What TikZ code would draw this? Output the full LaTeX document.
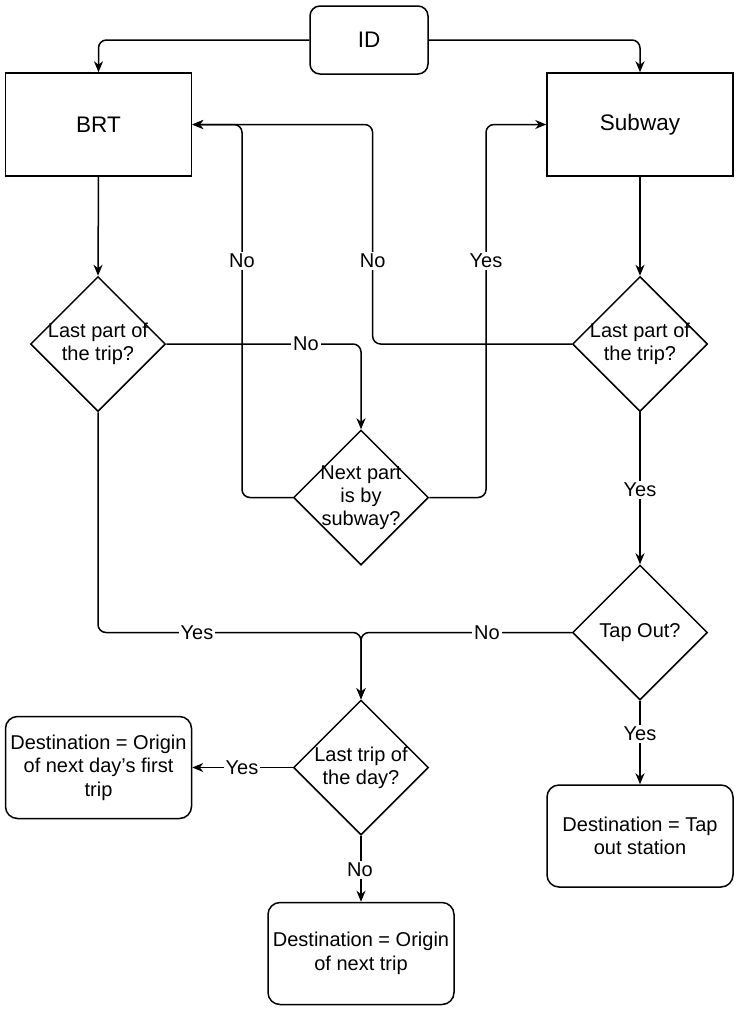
\documentclass[tikz,border=0pt]{standalone}
\usepackage{fontspec}
\setmainfont{Liberation Sans}
\usetikzlibrary{shapes.geometric,arrows.meta}
\begin{document}
\begin{tikzpicture}[x=1pt,y=-1pt,
  line width=1.5pt,
  box/.style={draw, minimum width=186pt, minimum height=103pt, inner sep=0pt, align=center, font=\fontsize{22.5}{27}\selectfont},
  idbox/.style={draw, rounded corners=10pt, minimum width=118pt, minimum height=68pt, inner sep=0pt, font=\fontsize{22.5}{27}\selectfont},
  rbox/.style={draw, rounded corners=12pt, minimum width=186pt, minimum height=102pt, inner sep=0pt, align=center, font=\fontsize{20}{23.5}\selectfont},
  dia/.style={draw, diamond, minimum width=135pt, minimum height=135pt, inner sep=0pt},
  dtxt/.style={align=center, font=\fontsize{20}{23}\selectfont, inner sep=0pt},
  lbl/.style={fill=white, inner sep=2pt, font=\fontsize{20}{23.5}\selectfont},
  arr/.style={-{Stealth[length=11pt,width=9pt,inset=3.5pt]}, rounded corners=8pt},
]
\useasboundingbox (0,0) rectangle (737,1010);

% nodes
\node[idbox] (id) at (369,40) {ID};
\node[box] (brt) at (98.5,124.5) {BRT};
\node[box] (sub) at (640,124.5) {Subway};
\node[dia] (d1) at (98,344) {};
\node[dtxt] (d1t) at (d1) {Last part of\\the trip?};
\node[dia] (d2) at (640,344) {};
\node[dtxt] (d2t) at (d2) {Last part of\\the trip?};
\node[dia] (mid) at (361,497.5) {};
\node[dtxt] (midt) at (mid) {Next part\\is by\\subway?};
\node[dia] (tap) at (640,632.5) {};
\node[dtxt] (tapt) at (tap) {Tap Out?};
\node[dia] (last) at (361,767.5) {};
\node[dtxt] (lastt) at (last) {Last trip of\\the day?};
\node[rbox] (lbox) at (98.5,767.5) {Destination = Origin\\of next day's first\\trip};
\node[rbox] (tbox) at (640,836) {Destination = Tap\\out station};
\node[rbox] (bbox) at (361,953.5) {Destination = Origin\\of next trip};

% connectors
\draw[arr] (id.west) -- (brt.north |- id.west) -- (brt.north);
\draw[arr] (id.east) -- (sub.north |- id.east) -- (sub.north);
\draw[arr] (brt.south) -- (d1.north);
\draw[arr] (sub.south) -- (d2.north);
\draw[arr] (d1.east) -- (mid.north |- d1.east) -- (mid.north);
\draw[arr] (mid.west) -- (242,497.5) -- (242,124.5) -- (brt.east);
\draw[arr] (mid.east) -- (486,497.5) -- (486,124.5) -- (sub.west);
\draw[arr] (d2.west) -- (372.6,344) -- (372.6,124.5) -- (brt.east);
\draw[arr] (d2.south) -- (tap.north);
\draw[arr] (d1.south) -- (98,632.5) -- (last.north |- tap.west) -- (last.north);
\draw[arr] (tap.west) -- (last.north |- tap.west) -- (last.north);
\draw[arr] (tap.south) -- (tbox.north);
\draw[arr] (last.west) -- (lbox.east);
\draw[arr] (last.south) -- (bbox.north);

% labels
\node[lbl] (l1) at (306,344) {No};
\node[lbl] (l2) at (242,261) {No};
\node[lbl] (l3) at (372.6,261) {No};
\node[lbl] (l4) at (486,261) {Yes};
\node[lbl] (l5) at (640,490) {Yes};
\node[lbl] (l6) at (197,632.5) {Yes};
\node[lbl] (l7) at (487,632.5) {No};
\node[lbl] (l8) at (640,734) {Yes};
\node[lbl] (l9) at (242,767.5) {Yes};
\node[lbl] (l10) at (360,870) {No};
\end{tikzpicture}
\end{document}
